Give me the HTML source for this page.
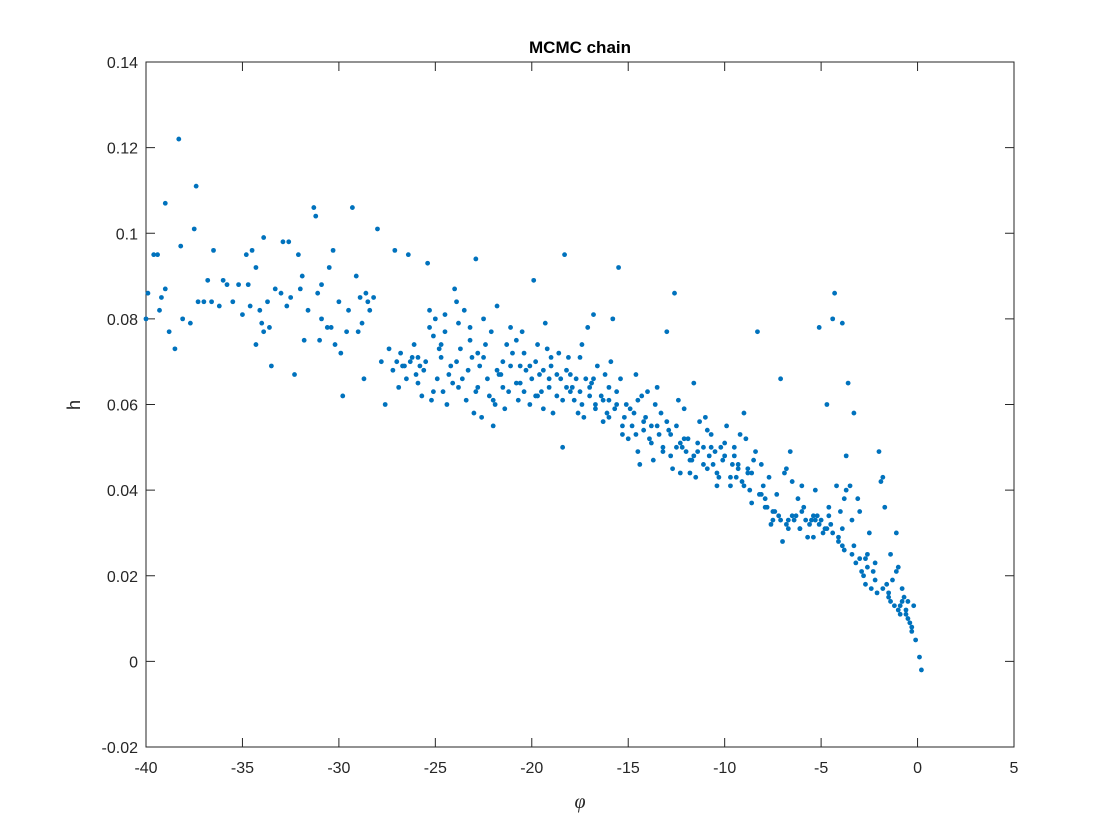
<!DOCTYPE html>
<html><head><meta charset="utf-8"><style>
body{margin:0;background:#fff;}
svg{display:block;font-family:"Liberation Sans",Arial,sans-serif;}
</style></head><body>
<svg id="chart" width="1120" height="840">
<rect x="0" y="0" width="1120" height="840" fill="#fff"/>
<text x="580" y="53" text-anchor="middle" font-size="17" font-weight="bold" fill="#000">MCMC chain</text>
<g id="plot"></g>
<text x="580" y="808" text-anchor="middle" font-size="20" font-style="italic" font-family="'Liberation Serif',serif" fill="#262626">φ</text>
<text x="80" y="405" text-anchor="middle" font-size="18" fill="#262626" transform="rotate(-90 80 405)">h</text>
</svg>
<script>
const xTicks=[-40,-35,-30,-25,-20,-15,-10,-5,0,5];
const yTicks=[-0.02,0,0.02,0.04,0.06,0.08,0.1,0.12,0.14];
const yTickLabels=["-0.02","0","0.02","0.04","0.06","0.08","0.1","0.12","0.14"];
const phi=[-38.3,-37.4,-39.0,-39.6,-39.4,-37.5,-38.2,-39.9,-39.0,-39.2,-40,-38.8,-38.5,-37.3,-37.7,-38.1,-37.0,-36.5,-36.8,-36.0,-35.2,-34.8,-34.5,-34.3,-33.9,-34.6,-34.1,-33.7,-34.0,-33.6,-34.3,-33.5,-33.9,-32.9,-32.6,-32.5,-32.1,-31.9,-32.3,-31.6,-31.3,-31.2,-31.1,-30.9,-30.5,-30.3,-30.9,-30.6,-30.2,-29.9,-29.5,-29.3,-29.1,-28.9,-28.7,-28.5,-28.0,-28.2,-28.8,-29.8,-29.6,-31.8,-33.0,-35.5,-36.2,-35.0,-32.7,-30.0,-29.0,-27.6,-27.4,-27.1,-27.0,-26.7,-26.4,-26.2,-26.0,-25.8,-25.6,-25.4,-25.3,-25.0,-24.8,-24.6,-24.5,-24.2,-24.0,-23.8,-23.5,-23.3,-23.1,-22.9,-22.8,-22.6,-22.4,-22.1,-21.9,-21.8,-21.5,-21.2,-21.0,-20.8,-20.6,-20.3,-20.1,-19.9,-19.8,-19.5,-19.3,-19.1,-18.9,-18.6,-18.3,-18.2,-18.0,-17.8,-17.5,-17.3,-17.1,-16.9,-16.7,-16.4,-16.1,-15.9,-15.6,-15.5,-15.3,-15.1,-14.8,-14.5,-14.3,-14.1,-13.8,-13.6,-13.4,-13.2,-13.0,-12.8,-12.6,-12.5,-12.3,-12.1,-11.9,-11.7,-11.5,-11.3,-11.1,-10.9,-10.7,-10.5,-10.3,-10.1,-9.9,-9.7,-9.5,-9.3,-9.1,-8.9,-8.7,-8.5,-8.3,-8.1,-7.9,-7.7,-7.5,-7.3,-7.1,-6.9,-6.7,-6.5,-6.3,-6.1,-5.9,-5.7,-5.5,-5.3,-5.1,-5.0,-4.8,-4.6,-4.4,-4.3,-4.1,-3.9,-3.8,-3.6,-3.5,-3.3,-3.2,-3.0,-2.8,-2.6,-2.4,-2.2,-2.0,-1.8,-1.7,-1.5,-1.3,-1.1,-1.0,-0.9,-0.7,-0.5,-0.3,-0.1,0.1,0.2,
-26.8,-26.5,-26.1,-25.7,-25.2,-24.9,-24.4,-24.1,-23.7,-23.4,-23.0,-22.7,-22.3,-22.0,-21.7,-21.4,-21.1,-20.7,-20.4,-20.0,-19.7,-19.4,-19.0,-18.7,-18.4,-18.1,-17.9,-17.6,-17.2,-17.0,-16.6,-16.3,-16.0,-15.7,-15.4,-15.0,-14.7,-14.4,-14.0,-13.7,-13.3,-12.9,-12.7,-12.4,-12.0,-11.8,-11.4,-11.0,-10.8,-10.4,-10.0,-9.6,-9.2,-8.8,-8.4,-8.0,-7.6,-7.2,-6.8,-6.4,-6.0,-5.6,-5.2,-4.9,-4.5,-4.2,-3.9,-3.7,-3.4,-3.1,-2.9,-2.7,-2.3,-1.9,-1.6,-1.2,-0.8,-0.6,-0.4,-1.4,-2.1,-4.7,-3.7,-6.6,-7.0,-8.6,-9.0,-11.6,-13.5,-14.6,-15.8,-16.8,-17.4,-19.2,-20.5,-22.5,-23.9,-24.7,-25.9,-27.2,-27.8,-28.4,-30.4,-31.0,-32.0,-33.3,-34.7,-35.8,-36.6,-39.3,-28.6,-26.9,-25.1,-23.2,-21.6,-19.6,-18.5,-16.2,-14.2,-12.2,-10.6,-9.4,-7.8,-6.2,-5.4,-4.0,-2.5,-1.1,-0.2,-0.5,
-26.6,-26.3,-25.9,-25.5,-25.1,-24.7,-24.3,-23.9,-23.6,-23.2,-22.9,-22.5,-22.2,-21.8,-21.5,-21.1,-20.8,-20.4,-20.1,-19.7,-19.4,-19.1,-18.7,-18.4,-18.0,-17.7,-17.4,-17.0,-16.7,-16.3,-16.0,-15.6,-15.3,-14.9,-14.6,-14.2,-13.9,-13.5,-13.2,-12.8,-12.5,-12.1,-11.8,-11.4,-11.1,-10.7,-10.4,-10.0,-9.7,-9.3,-9.0,-8.6,-8.2,-7.9,-7.5,-7.1,-6.8,-6.5,-6.1,-5.8,-5.4,-5.1,-4.7,-4.4,-4.1,-3.8,-3.4,-3.0,-2.6,-2.2,-1.8,-1.4,-1.0,-0.8,-0.6,
-25.3,-24.5,-23.8,-22.8,-22.0,-21.3,-20.6,-19.8,-19.0,-18.2,-17.5,-16.8,-16.0,-15.2,-14.5,-13.8,-13.0,-12.3,-11.6,-10.9,-10.2,-9.5,-8.8,-8.1,-7.4,-6.7,-6.0,-5.3,-4.6,-3.9,-3.3,-2.7,-1.5,-0.9,-0.3];
const h=[0.122,0.111,0.107,0.095,0.095,0.101,0.097,0.086,0.087,0.085,0.080,0.077,0.073,0.084,0.079,0.080,0.084,0.096,0.089,0.089,0.088,0.095,0.096,0.092,0.099,0.083,0.082,0.084,0.079,0.078,0.074,0.069,0.077,0.098,0.098,0.085,0.095,0.090,0.067,0.082,0.106,0.104,0.086,0.088,0.092,0.096,0.080,0.078,0.074,0.072,0.082,0.106,0.090,0.085,0.066,0.084,0.101,0.085,0.079,0.062,0.077,0.075,0.086,0.084,0.083,0.081,0.083,0.084,0.077,0.060,0.073,0.096,0.070,0.069,0.095,0.071,0.067,0.069,0.068,0.093,0.082,0.080,0.073,0.063,0.077,0.069,0.087,0.079,0.082,0.068,0.071,0.094,0.064,0.057,0.074,0.077,0.060,0.083,0.070,0.063,0.072,0.075,0.065,0.068,0.060,0.089,0.070,0.063,0.079,0.066,0.058,0.072,0.095,0.064,0.067,0.061,0.071,0.057,0.078,0.065,0.060,0.062,0.058,0.070,0.063,0.092,0.053,0.060,0.055,0.049,0.062,0.057,0.051,0.060,0.053,0.050,0.077,0.048,0.086,0.055,0.044,0.059,0.052,0.047,0.043,0.056,0.050,0.045,0.053,0.049,0.043,0.047,0.055,0.041,0.050,0.045,0.042,0.052,0.040,0.047,0.077,0.046,0.038,0.043,0.035,0.039,0.066,0.044,0.033,0.042,0.034,0.031,0.036,0.029,0.033,0.040,0.078,0.033,0.031,0.036,0.080,0.086,0.029,0.079,0.026,0.065,0.041,0.058,0.023,0.035,0.020,0.025,0.017,0.023,0.049,0.043,0.036,0.015,0.019,0.030,0.022,0.013,0.015,0.010,0.007,0.005,0.001,-0.002,
0.072,0.066,0.074,0.062,0.061,0.066,0.060,0.065,0.073,0.061,0.058,0.069,0.066,0.055,0.067,0.059,0.078,0.061,0.072,0.066,0.074,0.059,0.069,0.062,0.050,0.071,0.064,0.058,0.066,0.062,0.069,0.056,0.064,0.059,0.066,0.052,0.058,0.046,0.063,0.047,0.058,0.054,0.045,0.061,0.049,0.044,0.051,0.057,0.048,0.041,0.051,0.046,0.053,0.044,0.049,0.041,0.032,0.034,0.045,0.033,0.041,0.032,0.034,0.030,0.032,0.041,0.027,0.040,0.033,0.038,0.021,0.018,0.021,0.042,0.018,0.013,0.017,0.012,0.009,0.025,0.016,0.060,0.048,0.049,0.028,0.037,0.058,0.065,0.064,0.067,0.080,0.081,0.074,0.073,0.077,0.080,0.084,0.074,0.071,0.068,0.070,0.082,0.078,0.075,0.087,0.087,0.088,0.088,0.084,0.082,0.086,0.064,0.076,0.078,0.067,0.067,0.066,0.067,0.054,0.050,0.046,0.043,0.036,0.038,0.029,0.035,0.030,0.021,0.013,0.014,
0.069,0.070,0.065,0.070,0.063,0.071,0.067,0.070,0.066,0.075,0.063,0.071,0.062,0.068,0.064,0.069,0.065,0.063,0.069,0.062,0.068,0.064,0.067,0.061,0.063,0.066,0.060,0.064,0.059,0.061,0.057,0.060,0.055,0.059,0.053,0.056,0.052,0.055,0.049,0.053,0.050,0.052,0.047,0.049,0.046,0.050,0.044,0.048,0.043,0.046,0.041,0.044,0.039,0.036,0.033,0.033,0.032,0.034,0.031,0.033,0.034,0.032,0.031,0.030,0.028,0.038,0.025,0.024,0.022,0.019,0.017,0.014,0.012,0.014,0.011,
0.078,0.081,0.064,0.072,0.061,0.074,0.069,0.062,0.071,0.068,0.063,0.066,0.061,0.057,0.061,0.055,0.056,0.051,0.048,0.054,0.050,0.048,0.045,0.039,0.035,0.031,0.035,0.033,0.034,0.031,0.027,0.024,0.016,0.011,0.008];

const L=146,R=1014,T=62,B=747;
const xS=v=>L+(v+40)/45*(R-L);
const yS=v=>B-(v+0.02)/0.16*(B-T);
const NS="http://www.w3.org/2000/svg";
const g=document.getElementById('plot');
function mk(t,a){const e=document.createElementNS(NS,t);for(const k in a)e.setAttribute(k,a[k]);g.appendChild(e);return e;}
const frame=mk('rect',{x:L,y:T,width:R-L,height:B-T,fill:'none',stroke:'#262626','stroke-width':1});


xTicks.forEach(v=>{
  const x=xS(v);
  const t1=mk('line',{x1:x,y1:B,x2:x,y2:B-9,stroke:'#262626'});
  
  
  const t2=mk('line',{x1:x,y1:T,x2:x,y2:T+9,stroke:'#262626'});
  
  
  const lb=mk('text',{x:x,y:B+26,'text-anchor':'middle','font-size':16,fill:'#262626'});
  lb.textContent=String(v);
  
  
});
yTicks.forEach((v,i)=>{
  const y=yS(v);
  const t1=mk('line',{x1:L,y1:y,x2:L+9,y2:y,stroke:'#262626'});
  
  
  const t2=mk('line',{x1:R,y1:y,x2:R-9,y2:y,stroke:'#262626'});
  
  
  const lb=mk('text',{x:L-8,y:y+6,'text-anchor':'end','font-size':16,fill:'#262626'});
  lb.textContent=yTickLabels[i];
  
  
});
const n=Math.min(phi.length,h.length);
for(let i=0;i<n;i++){
  const c=mk('circle',{cx:xS(phi[i]),cy:yS(h[i]),r:2.4,fill:'#0072BD'});
  
  
}
</script>
</body></html>
